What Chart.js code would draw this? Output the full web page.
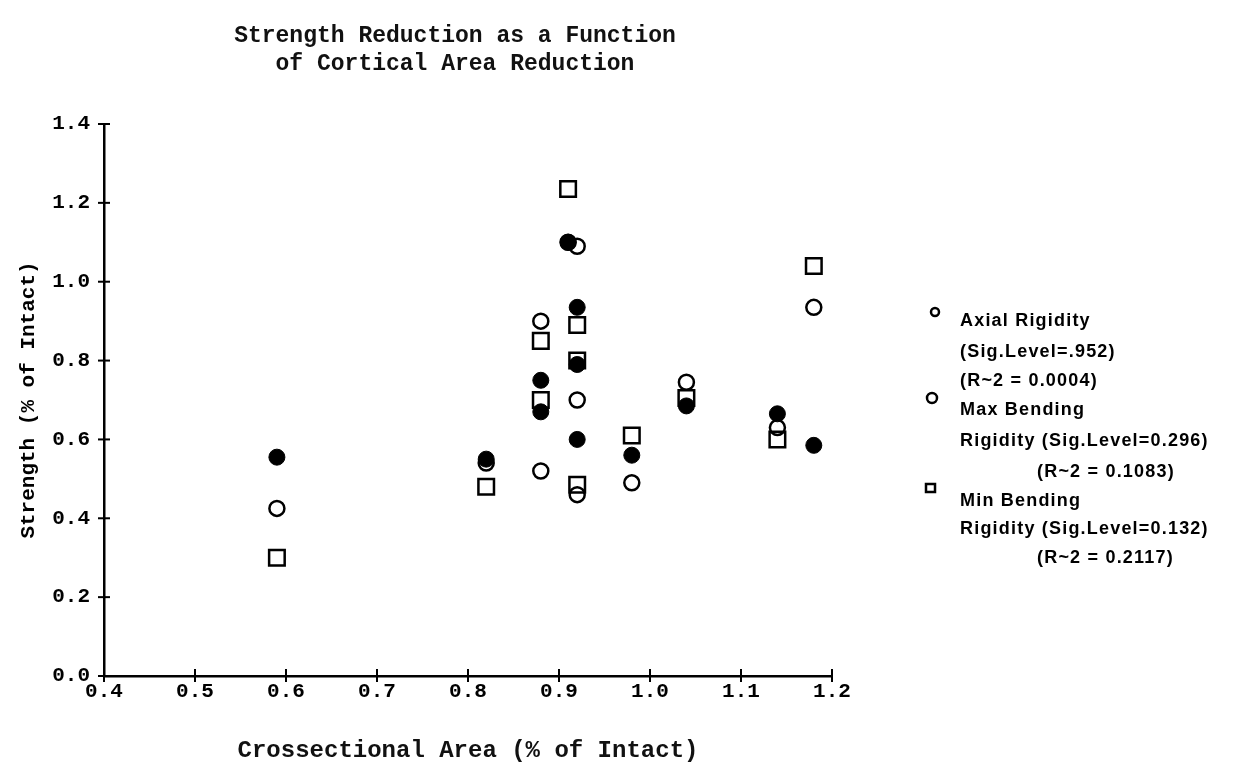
<!DOCTYPE html>
<html>
<head>
<meta charset="utf-8">
<script src="https://cdn.jsdelivr.net/npm/chart.js@4"></script>
<style>
  html, body { margin: 0; padding: 0; background: #fff; }
  #wrap { position: relative; width: 1247px; height: 765px; }
  #chart { position: absolute; left: 0; top: 0; }
  .title {
    position: absolute; left: 205px; width: 500px; text-align: center;
    font-family: "Liberation Mono", monospace; font-size: 23px; font-weight: bold;
    color: #111; white-space: nowrap;
  }
  .leg {
    position: absolute; font-family: "Liberation Sans", Arial, sans-serif;
    font-weight: bold; font-size: 18px; letter-spacing: 1.2px; color: #000;
    white-space: nowrap; line-height: 20px;
  }
</style>
</head>
<body>
<div id="wrap">
  <canvas id="chart" width="1247" height="765"></canvas>
  <div class="title" style="top:23px">Strength Reduction as a Function</div>
  <div class="title" style="top:51px">of Cortical Area Reduction</div>

  <div class="leg" style="left:960px;top:310px">Axial Rigidity</div>
  <div class="leg" style="left:960px;top:341px">(Sig.Level=.952)</div>
  <div class="leg" style="left:960px;top:370px">(R~2 = 0.0004)</div>
  <div class="leg" style="left:960px;top:399px">Max Bending</div>
  <div class="leg" style="left:960px;top:430px">Rigidity (Sig.Level=0.296)</div>
  <div class="leg" style="left:1037px;top:461px">(R~2 = 0.1083)</div>
  <div class="leg" style="left:960px;top:490px">Min Bending</div>
  <div class="leg" style="left:960px;top:518px">Rigidity (Sig.Level=0.132)</div>
  <div class="leg" style="left:1037px;top:547px">(R~2 = 0.2117)</div>
</div>
<script>
// values
const areaX = [0.59, 0.82, 0.88, 0.88, 0.91, 0.92, 0.92, 0.92, 0.98, 1.04, 1.14, 1.18];
const axialY = [0.555, 0.55, 0.75, 0.67, 1.10, 0.935, 0.79, 0.60, 0.56, 0.685, 0.665, 0.585];
const maxBendX = [0.59, 0.82, 0.88, 0.88, 0.91, 0.92, 0.92, 0.92, 0.98, 1.04, 1.14, 1.18];
const maxBendY = [0.425, 0.54, 0.90, 0.52, 1.10, 1.09, 0.70, 0.46, 0.49, 0.745, 0.63, 0.935];
const minBendX = [0.59, 0.82, 0.88, 0.88, 0.91, 0.92, 0.92, 0.92, 0.98, 1.04, 1.14, 1.18];
const minBendY = [0.30, 0.48, 0.85, 0.70, 1.235, 0.89, 0.80, 0.485, 0.61, 0.705, 0.60, 1.04];
const xTicks = [0.4, 0.5, 0.6, 0.7, 0.8, 0.9, 1.0, 1.1, 1.2];
const yTicks = [0.0, 0.2, 0.4, 0.6, 0.8, 1.0, 1.2, 1.4];

const pts = (xs, ys) => xs.map((x, i) => ({ x: x, y: ys[i] }));

// tick marks crossing the axes + legend markers
const extras = {
    id: 'extras',
    afterDraw(chart) {
        const c = chart.ctx;
        const xs = chart.scales.x, ys = chart.scales.y;
        const left = chart.chartArea.left, bottom = chart.chartArea.bottom;
        c.save();
        c.strokeStyle = '#000';
        c.lineWidth = 2;
        yTicks.forEach(v => {
            const py = ys.getPixelForValue(v);
            c.beginPath(); c.moveTo(left - 6, py); c.lineTo(left + 6, py); c.stroke();
        });
        xTicks.forEach(v => {
            const px = xs.getPixelForValue(v);
            c.beginPath(); c.moveTo(px, bottom - 7); c.lineTo(px, bottom + 6); c.stroke();
        });
        // legend symbols
        c.lineWidth = 2.5;
        c.beginPath(); c.arc(935, 312, 4, 0, Math.PI * 2); c.stroke();
        c.beginPath(); c.arc(932, 398, 5, 0, Math.PI * 2); c.stroke();
        c.strokeRect(926, 484, 9, 8);
        c.restore();
    }
};

new Chart(document.getElementById('chart').getContext('2d'), {
    type: 'scatter',
    data: {
        datasets: [{
            label: 'Min Bending Rigidity',
            data: pts(minBendX, minBendY),
            pointStyle: 'rect',
            pointRadius: 11,
            backgroundColor: 'rgba(255,255,255,0)',
            borderColor: '#000',
            borderWidth: 2.5
        }, {
            label: 'Max Bending Rigidity',
            data: pts(maxBendX, maxBendY),
            pointStyle: 'circle',
            pointRadius: 7.5,
            backgroundColor: 'rgba(255,255,255,0)',
            borderColor: '#000',
            borderWidth: 2.5
        }, {
            label: 'Axial Rigidity',
            data: pts(areaX, axialY),
            pointStyle: 'circle',
            pointRadius: 8,
            backgroundColor: '#000',
            borderColor: '#000',
            borderWidth: 1
        }]
    },
    options: {
        responsive: false,
        animation: false,
        layout: { padding: { left: 0, right: 415, top: 124, bottom: 0 } },
        plugins: { legend: { display: false }, tooltip: { enabled: false } },
        scales: {
            x: {
                type: 'linear',
                min: 0.4, max: 1.2,
                afterBuildTicks: s => { s.ticks = xTicks.map(v => ({ value: v })); },
                afterFit: s => { s.height = 89; },
                border: { display: true, color: '#000', width: 2.5 },
                grid: { display: false },
                ticks: {
                    color: '#000', padding: -5,
                    font: { family: 'Liberation Mono', size: 21, weight: 'bold' },
                    callback: v => v.toFixed(1)
                },
                title: {
                    display: true, text: 'Crossectional Area (% of Intact)', color: '#111',
                    font: { family: 'Liberation Mono', size: 24, weight: 'bold' },
                    padding: { bottom: 0 }
                }
            },
            y: {
                type: 'linear',
                min: 0, max: 1.4,
                afterBuildTicks: s => { s.ticks = yTicks.map(v => ({ value: v })); },
                afterFit: s => { s.width = 104; },
                border: { display: true, color: '#000', width: 2.5 },
                grid: { display: false },
                ticks: {
                    color: '#000', padding: 6,
                    font: { family: 'Liberation Mono', size: 21, weight: 'bold' },
                    callback: v => v.toFixed(1)
                },
                title: {
                    display: true, text: 'Strength (% of Intact)', color: '#000',
                    font: { family: 'Liberation Mono', size: 21, weight: 'bold' },
                    padding: { top: 16 }
                }
            }
        }
    },
    plugins: [extras]
});
</script>
</body>
</html>
